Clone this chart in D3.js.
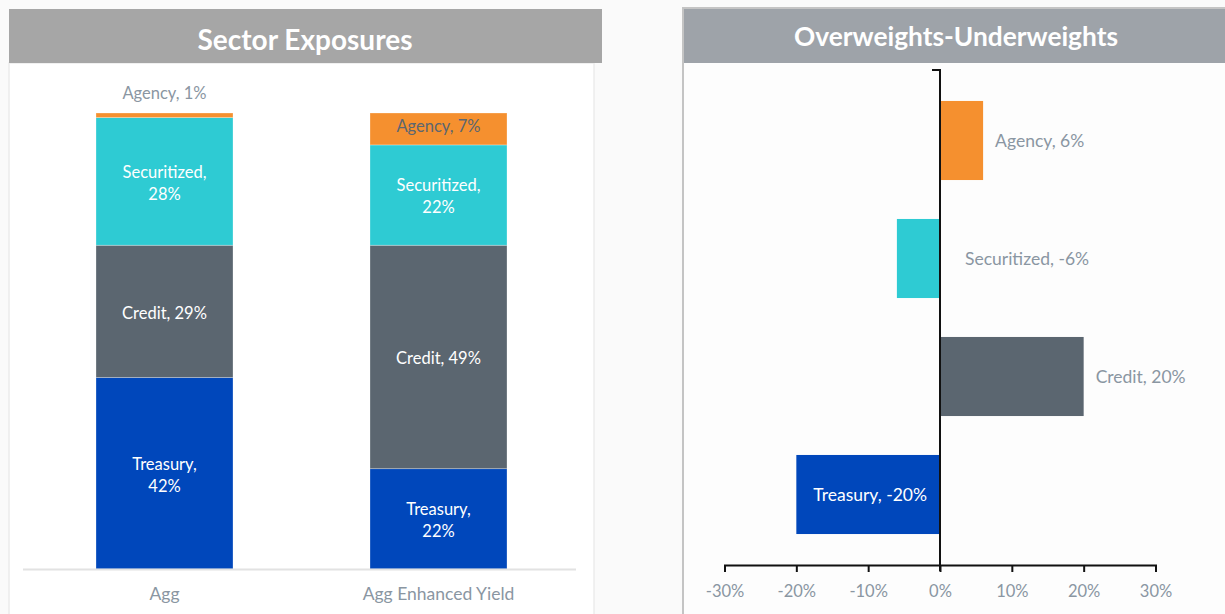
<!DOCTYPE html>
<html>
<head>
<meta charset="utf-8">
<script src="https://cdn.jsdelivr.net/npm/d3@7"></script>
<style>
  html, body { margin: 0; padding: 0; background: #fafafa; }
  svg { display: block; font-family: Lato, "Open Sans", sans-serif; }
</style>
</head>
<body>
<svg id="chart" width="1225" height="614"></svg>
<script>
// ---------- DATA ----------
const portfolios = ["Agg", "Agg Enhanced Yield"];
const sectors = ["Treasury", "Credit", "Securitized", "Agency"];
const treasuryExposure = [42, 22];
const creditExposure = [29, 49];
const securitizedExposure = [28, 22];
const agencyExposure = [1, 7];

const owSectors = ["Agency", "Securitized", "Credit", "Treasury"];
const owValues = [6, -6, 20, -20];
const owTicks = [-30, -20, -10, 0, 10, 20, 30];

const sectorColors = {
  Treasury: "#0047bb",
  Credit: "#5b6670",
  Securitized: "#2ecbd3",
  Agency: "#f5902f"
};

// ---------- SETUP ----------
const svg = d3.select("#chart");
const labelGrey = "#8a96a2";

// Left panel background
svg.append("rect").attr("x", 9).attr("y", 63).attr("width", 585).attr("height", 560)
  .attr("fill", "#ffffff").attr("stroke", "#ececec").attr("stroke-width", 1.5);
svg.append("rect").attr("x", 9).attr("y", 9).attr("width", 593).attr("height", 54)
  .attr("fill", "#a6a6a6");
svg.append("text").attr("x", 305).attr("y", 50).attr("text-anchor", "middle")
  .attr("fill", "#ffffff").attr("font-weight", 700).attr("font-size", 28)
  .text("Sector Exposures");

// Right panel background
svg.append("rect").attr("x", 683).attr("y", 8).attr("width", 545).attr("height", 610)
  .attr("fill", "#fdfdfd").attr("stroke", "#c4c4c4").attr("stroke-width", 2);
svg.append("rect").attr("x", 684).attr("y", 9).attr("width", 541).attr("height", 54)
  .attr("fill", "#9ea3a9");
svg.append("text").attr("x", 956).attr("y", 46).attr("text-anchor", "middle")
  .attr("fill", "#ffffff").attr("font-weight", 700).attr("font-size", 26.3)
  .text("Overweights-Underweights");

// ---------- LEFT: stacked bars ----------
const rows = portfolios.map((p, i) => ({
  portfolio: p,
  Treasury: treasuryExposure[i],
  Credit: creditExposure[i],
  Securitized: securitizedExposure[i],
  Agency: agencyExposure[i]
}));
const stack = d3.stack().keys(sectors)(rows);

const xL = d3.scaleBand().domain(portfolios).range([27.5, 575.5])
  .paddingInner(0.5).paddingOuter(0.25);
const yL = d3.scaleLinear().domain([0, 100]).range([569, 113]);

const gL = svg.append("g");
stack.forEach(layer => {
  gL.selectAll(null).data(layer).enter().append("rect")
    .attr("x", d => xL(d.data.portfolio))
    .attr("width", xL.bandwidth())
    .attr("y", d => yL(d[1]))
    .attr("height", d => yL(d[0]) - yL(d[1]))
    .attr("fill", sectorColors[layer.key])
    .attr("stroke", "rgba(255,255,255,0.35)")
    .attr("stroke-width", 0.8);
});

// baseline axis
const axL = gL.append("g").attr("transform", "translate(0,569.5)")
  .call(d3.axisBottom(xL).tickSize(0).tickPadding(18));
axL.select(".domain").attr("stroke", "#e2e2e2").attr("stroke-width", 2)
  .attr("d", "M23,0H576");
axL.selectAll(".tick text").attr("fill", labelGrey).attr("font-size", 17.5)
  .attr("font-family", "Lato, sans-serif");

// segment labels
stack.forEach(layer => {
  layer.forEach(d => {
    const key = layer.key;
    const val = d[1] - d[0];
    const cx = xL(d.data.portfolio) + xL.bandwidth() / 2;
    let cy = (yL(d[0]) + yL(d[1])) / 2 + 1.5;
    let fill = "#ffffff";
    const twoLine = (key === "Treasury" || key === "Securitized");
    if (key === "Agency") {
      if (val < 3) { cy = yL(d[1]) - 20; fill = labelGrey; }
      else { cy -= 4; fill = "#5b6670"; }
    }
    const t = gL.append("text").attr("text-anchor", "middle").attr("fill", fill)
      .attr("font-size", 16.5);
    if (twoLine) {
      t.append("tspan").attr("x", cx).attr("y", cy - 11).attr("dy", "0.35em").text(key + ",");
      t.append("tspan").attr("x", cx).attr("y", cy + 11).attr("dy", "0.35em").text(val + "%");
    } else {
      t.attr("x", cx).attr("y", cy).attr("dy", "0.35em").text(key + ", " + val + "%");
    }
  });
});

// ---------- RIGHT: diverging bars ----------
const xR = d3.scaleLinear().domain([-30, 30]).range([724.5, 1155.5]);
const yR = d3.scaleBand().domain(owSectors).range([81.5, 553.5])
  .paddingInner(0.33).paddingOuter(0.165);

const gR = svg.append("g");
gR.selectAll(null).data(owSectors).enter().append("rect")
  .attr("x", (s, i) => xR(Math.min(0, owValues[i])))
  .attr("width", (s, i) => Math.abs(xR(owValues[i]) - xR(0)))
  .attr("y", s => yR(s))
  .attr("height", yR.bandwidth())
  .attr("fill", s => sectorColors[s]);

// x axis
const axX = gR.append("g").attr("transform", "translate(0,565)")
  .call(d3.axisBottom(xR).tickValues(owTicks).tickSize(7).tickSizeOuter(7)
    .tickPadding(13).tickFormat(d => d + "%"));
axX.select(".domain").attr("stroke", "#111").attr("stroke-width", 2);
axX.selectAll(".tick line").attr("stroke", "#111").attr("stroke-width", 2);
axX.selectAll(".tick text").attr("fill", labelGrey).attr("font-size", 16.5)
  .attr("font-family", "Lato, sans-serif");

// y axis (at zero)
const yAxisScale = d3.scaleLinear().domain([0, 1]).range([565, 70]);
const axY = gR.append("g").attr("transform", `translate(${xR(0)},0)`)
  .call(d3.axisLeft(yAxisScale).tickValues([]).tickSizeOuter(8));
axY.select(".domain").attr("stroke", "#111").attr("stroke-width", 2)
  .attr("d", `M-8,${yAxisScale(1)}H0V${yAxisScale(0) + 6}`);

// bar labels
owSectors.forEach((s, i) => {
  const v = owValues[i];
  const cy = yR(s) + yR.bandwidth() / 2;
  const txt = s + ", " + v + "%";
  const t = gR.append("text").attr("y", cy).attr("dy", "0.35em")
    .attr("font-size", 17.5).text(txt);
  if (v >= 0) {
    t.attr("x", xR(v) + 12).attr("fill", labelGrey);
  } else if (Math.abs(v) >= 15) {
    t.attr("x", (xR(v) + xR(0)) / 2 + 2).attr("text-anchor", "middle").attr("fill", "#ffffff");
  } else {
    t.attr("x", xR(0) + 25).attr("fill", labelGrey);
  }
});
</script>
</body>
</html>
